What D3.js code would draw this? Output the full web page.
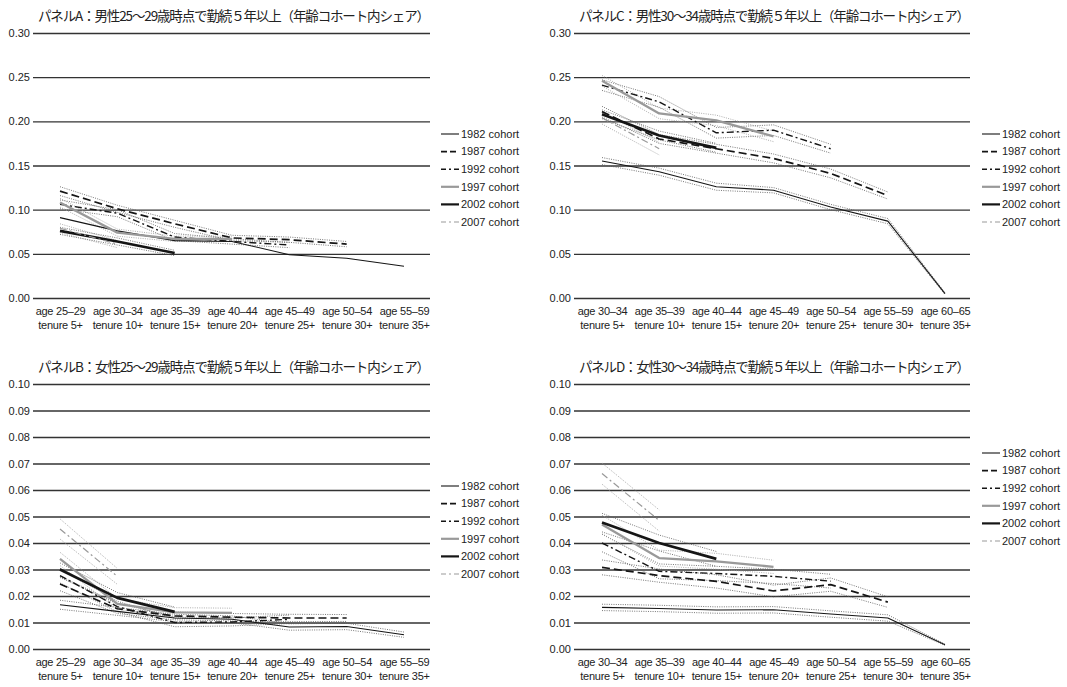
<!DOCTYPE html>
<html>
<head>
<meta charset="utf-8">
<script src="https://cdn.jsdelivr.net/npm/d3@7"></script>
<style>
  body { margin: 0; background: #fff; }
  text { font-family: "Liberation Sans", Arial, sans-serif; fill: #222; }
  .title { font-family: "Noto Sans CJK JP", "Noto Sans", sans-serif; }
</style>
</head>
<body>
<svg id="chart" width="1067" height="687"></svg>
<script>
// ---- categories and labels ----
const cohorts = ["1982 cohort", "1987 cohort", "1992 cohort", "1997 cohort", "2002 cohort", "2007 cohort"];
const ages25 = ["age 25–29", "age 30–34", "age 35–39", "age 40–44", "age 45–49", "age 50–54", "age 55–59"];
const ages30 = ["age 30–34", "age 35–39", "age 40–44", "age 45–49", "age 50–54", "age 55–59", "age 60–65"];
const tenures = ["tenure 5+", "tenure 10+", "tenure 15+", "tenure 20+", "tenure 25+", "tenure 30+", "tenure 35+"];
const maleTicks = [0, 0.05, 0.10, 0.15, 0.20, 0.25, 0.30];
const femaleTicks = [0, 0.01, 0.02, 0.03, 0.04, 0.05, 0.06, 0.07, 0.08, 0.09, 0.10];

const titleA = "パネルA：男性25～29歳時点で勤続５年以上（年齢コホート内シェア）";
const titleB = "パネルB：女性25～29歳時点で勤続５年以上（年齢コホート内シェア）";
const titleC = "パネルC：男性30～34歳時点で勤続５年以上（年齢コホート内シェア）";
const titleD = "パネルD：女性30～34歳時点で勤続５年以上（年齢コホート内シェア）";

// ---- shares per cohort (one row per cohort, 1982 → 2007) ----
const valuesA = [
  [0.091, 0.076, 0.065, 0.064, 0.049, 0.045, 0.036],
  [0.121, 0.101, 0.084, 0.068, 0.066, 0.061],
  [0.106, 0.096, 0.069, 0.064, 0.060],
  [0.108, 0.074, 0.067, 0.067],
  [0.076, 0.064, 0.051],
  [0.079, 0.061]
];
const valuesC = [
  [0.155, 0.143, 0.126, 0.122, 0.103, 0.087, 0.005],
  [0.211, 0.180, 0.169, 0.158, 0.141, 0.116],
  [0.241, 0.222, 0.187, 0.190, 0.169],
  [0.246, 0.209, 0.201, 0.183],
  [0.208, 0.184, 0.170],
  [0.204, 0.169]
];
const valuesB = [
  [0.0167, 0.0142, 0.0117, 0.0112, 0.0083, 0.0085, 0.0054],
  [0.0245, 0.0152, 0.0125, 0.0120, 0.0117, 0.0117],
  [0.0277, 0.0160, 0.0100, 0.0102, 0.0112],
  [0.0340, 0.0170, 0.0138, 0.0136],
  [0.0300, 0.0193, 0.0140],
  [0.0453, 0.0274]
];
const valuesD = [
  [0.0157, 0.0153, 0.0147, 0.0148, 0.0132, 0.0117, 0.0016],
  [0.0308, 0.0277, 0.0255, 0.0219, 0.0243, 0.0177],
  [0.0400, 0.0293, 0.0285, 0.0274, 0.0256],
  [0.0470, 0.0343, 0.0331, 0.0310],
  [0.0477, 0.0400, 0.0340],
  [0.0662, 0.0485]
];

// ---- confidence-interval half widths (dotted bands) ----
const marginsA = [
  null,
  [0.005, 0.004, 0.004, 0.003, 0.003, 0.003],
  [0.005, 0.004, 0.004, 0.003, 0.003],
  [0.005, 0.004, 0.003, 0.003],
  [0.004, 0.004, 0.003],
  [0.005, 0.004]
];
const marginsC = [
  [0.004, 0.004, 0.004, 0.003, 0.003, 0.003, 0.001],
  [0.006, 0.005, 0.005, 0.005, 0.005, 0.004],
  [0.006, 0.006, 0.006, 0.006, 0.005],
  [0.006, 0.006, 0.006, 0.006],
  [0.005, 0.005, 0.005],
  [0.007, 0.007]
];
const marginsB = [
  [0.0017, 0.0015, 0.0014, 0.0013, 0.0012, 0.0012, 0.0010],
  [0.0025, 0.0018, 0.0015, 0.0014, 0.0014, 0.0013],
  [0.0028, 0.0020, 0.0016, 0.0015, 0.0016],
  [0.0025, 0.0020, 0.0018, 0.0018],
  [0.0025, 0.0020, 0.0018],
  [0.0038, 0.0030]
];
const marginsD = [
  [0.0012, 0.0012, 0.0012, 0.0012, 0.0012, 0.0012, 0.0002],
  [0.0028, 0.0025, 0.0025, 0.0022, 0.0025, 0.0020],
  [0.0033, 0.0028, 0.0027, 0.0027, 0.0026],
  [0.0035, 0.0030, 0.0030, 0.0025],
  [0.0035, 0.0030, 0.0028],
  [0.0040, 0.0040]
];

// ---- line styles per cohort ----
const styles = [
  { stroke: "#151515", width: 1.1, dash: null,      band: "#555" },
  { stroke: "#151515", width: 1.7, dash: "8,4",     band: "#555" },
  { stroke: "#151515", width: 1.4, dash: "7,3,2,3", band: "#555" },
  { stroke: "#999999", width: 2.3, dash: null,      band: "#999" },
  { stroke: "#151515", width: 2.7, dash: null,      band: "#555" },
  { stroke: "#999999", width: 1.2, dash: "7,3,2,3", band: "#999" }
];

const panels = [
  { title: titleA, ages: ages25, values: valuesA, margins: marginsA, ticks: maleTicks, max: 0.30,
    gx0: 33, gx1: 430, px0: 60, px1: 404, top: 33, bottom: 298, legendX: 441, legendY: 134, legendStep: 17.6 },
  { title: titleC, ages: ages30, values: valuesC, margins: marginsC, ticks: maleTicks, max: 0.30,
    gx0: 574, gx1: 970, px0: 602, px1: 945, top: 33, bottom: 298, legendX: 982, legendY: 134, legendStep: 17.6 },
  { title: titleB, ages: ages25, values: valuesB, margins: marginsB, ticks: femaleTicks, max: 0.10,
    gx0: 33, gx1: 430, px0: 60, px1: 404, top: 384, bottom: 649, legendX: 441, legendY: 486, legendStep: 17.6 },
  { title: titleD, ages: ages30, values: valuesD, margins: marginsD, ticks: femaleTicks, max: 0.10,
    gx0: 574, gx1: 970, px0: 602, px1: 945, top: 384, bottom: 649, legendX: 982, legendY: 453, legendStep: 17.6 }
];

const svg = d3.select("#chart");

panels.forEach(p => {
  const g = svg.append("g");
  const x = d3.scalePoint().domain(d3.range(p.ages.length)).range([p.px0, p.px1]);
  const y = d3.scaleLinear().domain([0, p.max]).range([p.bottom, p.top]);

  // title
  g.append("text").attr("class", "title")
    .attr("x", p.gx0 + 5).attr("y", p.top - 12)
    .attr("font-size", 13.5)
    .attr("textLength", p.gx1 - p.gx0 - 5).attr("lengthAdjust", "spacing")
    .text(p.title);

  // horizontal gridlines with value labels
  const yAxis = d3.axisLeft(y).tickValues(p.ticks).tickFormat(d3.format(".2f"))
    .tickSize(-(p.gx1 - p.gx0)).tickPadding(3);
  const ya = g.append("g").attr("transform", `translate(${p.gx0},0)`).call(yAxis);
  ya.select(".domain").remove();
  ya.selectAll(".tick line").attr("stroke", "#333").attr("stroke-width", 1.3);
  ya.selectAll(".tick text").attr("font-size", 11).attr("fill", "#222")
    .style("font-family", null);

  // category labels (two lines)
  const xa = g.append("g").attr("transform", `translate(0,${p.bottom})`)
    .call(d3.axisBottom(x).tickSize(0).tickFormat(() => ""));
  xa.select(".domain").remove();
  xa.selectAll(".tick").each(function (d) {
    const t = d3.select(this).append("text")
      .attr("text-anchor", "middle").attr("font-size", 11).attr("fill", "#222")
      .attr("letter-spacing", -0.25);
    t.append("tspan").attr("x", 0).attr("y", 17).text(p.ages[d]);
    t.append("tspan").attr("x", 0).attr("y", 31).text(tenures[d]);
  });

  // dotted confidence bands
  p.values.forEach((vals, i) => {
    const m = p.margins[i];
    if (!m) return;
    const s = styles[i];
    [-1, 1].forEach(sign => {
      const band = d3.line().x((v, k) => x(k)).y((v, k) => y(v + sign * m[k]));
      g.append("path").datum(vals)
        .attr("d", band).attr("fill", "none")
        .attr("stroke", s.band).attr("stroke-width", 0.8)
        .attr("stroke-dasharray", "1,1.3");
    });
  });

  // cohort lines
  const line = d3.line().x((v, k) => x(k)).y(v => y(v));
  p.values.forEach((vals, i) => {
    const s = styles[i];
    g.append("path").datum(vals)
      .attr("d", line).attr("fill", "none")
      .attr("stroke", s.stroke).attr("stroke-width", s.width)
      .attr("stroke-dasharray", s.dash)
      .attr("stroke-linejoin", "round");
  });

  // legend
  const lg = g.append("g");
  cohorts.forEach((c, i) => {
    const s = styles[i];
    const yy = p.legendY + i * p.legendStep;
    lg.append("line")
      .attr("x1", p.legendX).attr("x2", p.legendX + 18)
      .attr("y1", yy).attr("y2", yy)
      .attr("stroke", s.stroke).attr("stroke-width", Math.min(s.width, 2.2))
      .attr("stroke-dasharray", s.dash ? (i === 1 ? "6,3" : "5,3,2,3") : null);
    lg.append("text")
      .attr("x", p.legendX + 20).attr("y", yy)
      .attr("dy", "0.35em").attr("font-size", 11)
      .text(c);
  });
});
</script>
</body>
</html>
